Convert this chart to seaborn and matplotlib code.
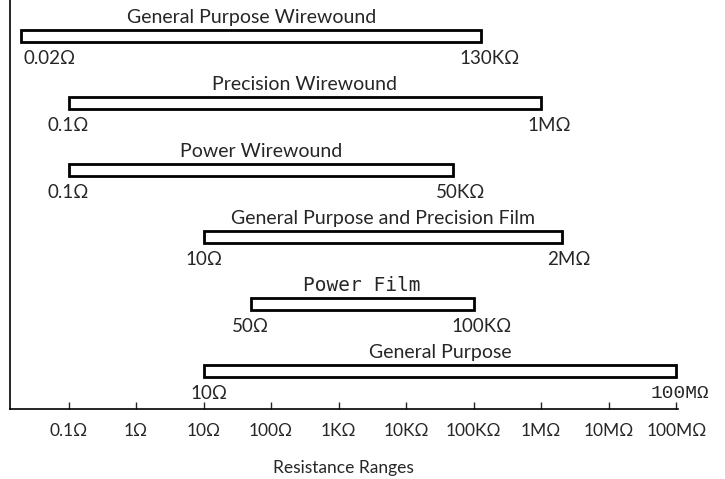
import numpy as np
import matplotlib
matplotlib.use("Agg")
import matplotlib.pyplot as plt
import seaborn as sns

# --- data ---
categories = ["General Purpose Wirewound", "Precision Wirewound", "Power Wirewound",
              "General Purpose and Precision Film", "Power Film", "General Purpose"]
low_ohms = [0.02, 0.1, 0.1, 10, 50, 10]
high_ohms = [130e3, 1e6, 50e3, 2e6, 100e3, 100e6]
low_labels = ["0.02Ω", "0.1Ω", "0.1Ω", "10Ω", "50Ω", "10Ω"]
high_labels = ["130KΩ", "1MΩ", "50KΩ", "2MΩ", "100KΩ", "100MΩ"]
tick_values = [0.1, 1, 10, 100, 1e3, 1e4, 1e5, 1e6, 1e7, 1e8]
tick_labels = ["0.1Ω", "1Ω", "10Ω", "100Ω", "1KΩ", "10KΩ", "100KΩ", "1MΩ", "10MΩ", "100MΩ"]

sns.set_theme(style="white")
plt.rcParams['font.family'] = ['Lato', 'DejaVu Sans']

fig = plt.figure(figsize=(7.25, 4.79), dpi=100)
ax = fig.add_axes([0.0138, 0.146, 0.921, 0.854])

rows = np.arange(len(categories))
lows = np.array(low_ohms)
highs = np.array(high_ohms)
ax.barh(rows, highs - lows, left=lows, height=0.18, color="white",
        edgecolor="black", linewidth=2)

ax.set_xscale("log")
ax.set_xlim(0.0136, 1.05e8)
ax.set_ylim(5.567, -0.537)

# small horizontal nudges (points) so end labels sit like the original
low_shift = [20, 0, 0, 0, 0, 4]
for i, name in enumerate(categories):
    mid = np.sqrt(lows[i] * highs[i])
    fam = ['DejaVu Sans Mono'] if name == "Power Film" else ['Lato', 'DejaVu Sans']
    ax.text(mid, i - 0.28, name, ha="center", va="center", fontsize=14, family=fam)
    ax.annotate(low_labels[i], (lows[i], i + 0.33), xytext=(low_shift[i], 0),
                textcoords="offset points", ha="center", va="center", fontsize=13.5,
                annotation_clip=False)
    if i == len(categories) - 1:
        ax.annotate(high_labels[i], (highs[i], i + 0.33), xytext=(24, 0),
                    textcoords="offset points", ha="right", va="center",
                    fontsize=14, family=['Liberation Mono'],
                    annotation_clip=False)
    else:
        ax.text(highs[i] * 1.3, i + 0.33, high_labels[i], ha="center", va="center",
                fontsize=13.5)

ax.set_xticks(tick_values)
ax.set_xticklabels(tick_labels, fontsize=12.5)
ax.minorticks_off()
ax.tick_params(axis="x", direction="in", length=5, width=1, pad=10, bottom=True)
ax.set_yticks([])
ax.set_xlabel("Resistance Ranges", fontsize=12.5, labelpad=15)

sns.despine(ax=ax, top=True, right=True)
for s in ["left", "bottom"]:
    ax.spines[s].set_color("black")
    ax.spines[s].set_linewidth(1.2)

fig.savefig("out.png", dpi=100, facecolor="white")
